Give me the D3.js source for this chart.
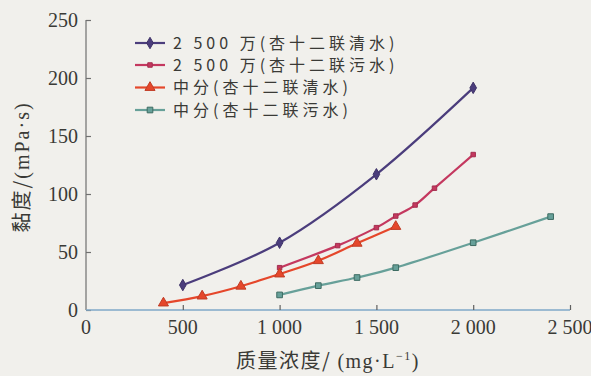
<!DOCTYPE html>
<html>
<head>
<meta charset="utf-8">
<script src="https://cdn.jsdelivr.net/npm/d3@7"></script>
<style>
  html, body { margin: 0; padding: 0; background: #f1f0ec; }
  svg { display: block; }
</style>
</head>
<body>
<svg id="chart" width="591" height="376"></svg>
<script>
// Viscosity vs. polymer mass concentration, four polymer / water combinations
const seriesNames = [
  "2 500 万(杏十二联清水)",
  "2 500 万(杏十二联污水)",
  "中分(杏十二联清水)",
  "中分(杏十二联污水)"
];
const conc1 = [500, 1000, 1500, 2000];
const visc1 = [21.5, 58, 117, 191.5];
const conc2 = [1000, 1300, 1500, 1600, 1700, 1800, 2000];
const visc2 = [36.5, 55.5, 71, 81, 90.5, 105, 134];
const conc3 = [400, 600, 800, 1000, 1200, 1400, 1600];
const visc3 = [6, 12, 20.5, 31, 42.5, 57.5, 72];
const conc4 = [1000, 1200, 1400, 1600, 2000, 2400];
const visc4 = [13, 21, 28, 36.5, 58, 80.5];
const xTicks = [0, 500, 1000, 1500, 2000, 2500];
const yTicks = [0, 50, 100, 150, 200, 250];

const colors = ["#4b3d7c", "#c4385f", "#e5472b", "#67a099"];
const markers = [d3.symbolDiamond, d3.symbolSquare, d3.symbolTriangle, d3.symbolSquare];
const markerSizes = [38, 20, 44, 32];

const svg = d3.select("#chart");
const x = d3.scaleLinear().domain([0, 2500]).range([86, 570]);
const y = d3.scaleLinear().domain([0, 250]).range([310, 20]);

const fmt = v => v >= 1000 ? d3.format(",")(v).replace(",", " ") : String(v);
const cjk = "Noto Sans CJK SC, sans-serif";
const serif = "Liberation Serif, serif";
const ink = "#3a3a36";

// y axis
const yAxis = svg.append("g")
  .attr("transform", `translate(${x(0)},0)`)
  .call(d3.axisRight(y).tickValues(yTicks).tickSize(5).tickFormat(""));
yAxis.select(".domain").attr("stroke", "#707070").attr("stroke-width", 1.2).attr("d", `M0,${y(0)}V${y(250)}`);
yAxis.selectAll(".tick line").attr("stroke", "#707070").attr("stroke-width", 1.2);
svg.append("g").selectAll("text").data(yTicks).join("text")
  .attr("x", 78).attr("y", d => y(d)).attr("dy", "0.35em")
  .attr("text-anchor", "end")
  .attr("font-family", serif).attr("font-size", 20)
  .attr("fill", ink)
  .text(d => d);

// x axis
const xAxis = svg.append("g")
  .attr("transform", `translate(0,${y(0)})`)
  .call(d3.axisTop(x).tickValues(xTicks.slice(1)).tickSize(5).tickFormat(""));
xAxis.select(".domain").attr("stroke", "#7fa9c9").attr("stroke-width", 1.4).attr("d", `M${x(0)},0H${x(2500)}`);
xAxis.selectAll(".tick line").attr("stroke", "#606060").attr("stroke-width", 1.2);
svg.append("g").selectAll("text").data(xTicks).join("text")
  .attr("x", d => x(d)).attr("y", 334)
  .attr("text-anchor", "middle")
  .attr("font-family", serif).attr("font-size", 20)
  .attr("fill", ink)
  .text(fmt);

// axis titles: Chinese part in CJK sans, unit part in serif
const xTitle = svg.append("text")
  .attr("x", 328).attr("y", 368)
  .attr("text-anchor", "middle")
  .attr("font-size", 20)
  .attr("letter-spacing", 1.5)
  .attr("fill", ink);
xTitle.append("tspan").attr("font-family", cjk).text("质量浓度/ ");
xTitle.append("tspan").attr("font-family", serif).text("(mg·L");
xTitle.append("tspan").attr("font-family", serif).attr("font-size", 12).attr("dy", -8).text("−1");
xTitle.append("tspan").attr("font-family", serif).attr("dy", 8).text(")");

const yTitle = svg.append("text")
  .attr("transform", "translate(29,167) rotate(-90)")
  .attr("text-anchor", "middle")
  .attr("font-size", 20)
  .attr("letter-spacing", 2)
  .attr("fill", ink);
yTitle.append("tspan").attr("font-family", cjk).text("黏度/");
yTitle.append("tspan").attr("font-family", serif).text("(mPa·s)");

// series
const series = [
  { xs: conc1, ys: visc1 },
  { xs: conc2, ys: visc2 },
  { xs: conc3, ys: visc3 },
  { xs: conc4, ys: visc4 }
];
const line = d3.line().curve(d3.curveCatmullRom.alpha(0))
  .x(d => x(d[0])).y(d => y(d[1]));
const edge = i => i === 3 ? "#3d6b62" : d3.color(colors[i]).darker(0.5);

series.forEach((s, i) => {
  const pts = s.xs.map((c, k) => [c, s.ys[k]]);
  const g = svg.append("g");
  g.append("path").datum(pts)
    .attr("fill", "none").attr("stroke", colors[i]).attr("stroke-width", 2.2)
    .attr("d", line);
  g.selectAll("path.m").data(pts).join("path").attr("class", "m")
    .attr("transform", d => `translate(${x(d[0])},${y(d[1])})`)
    .attr("d", d3.symbol().type(markers[i]).size(markerSizes[i]))
    .attr("fill", colors[i])
    .attr("stroke", edge(i))
    .attr("stroke-width", 1);
});

// legend
const legendY = [43, 65, 87.5, 110];
const legend = svg.append("g");
seriesNames.forEach((name, i) => {
  const gy = legendY[i];
  legend.append("line")
    .attr("x1", 135).attr("x2", 165).attr("y1", gy).attr("y2", gy)
    .attr("stroke", colors[i]).attr("stroke-width", 2.2);
  legend.append("path")
    .attr("transform", `translate(150,${gy})`)
    .attr("d", d3.symbol().type(markers[i]).size(markerSizes[i]))
    .attr("fill", colors[i]).attr("stroke", edge(i));
  legend.append("text")
    .attr("x", 173).attr("y", gy).attr("dy", "0.36em")
    .attr("font-family", cjk).attr("font-size", 16)
    .attr("letter-spacing", 4)
    .attr("fill", ink)
    .text(name);
});
</script>
</body>
</html>
